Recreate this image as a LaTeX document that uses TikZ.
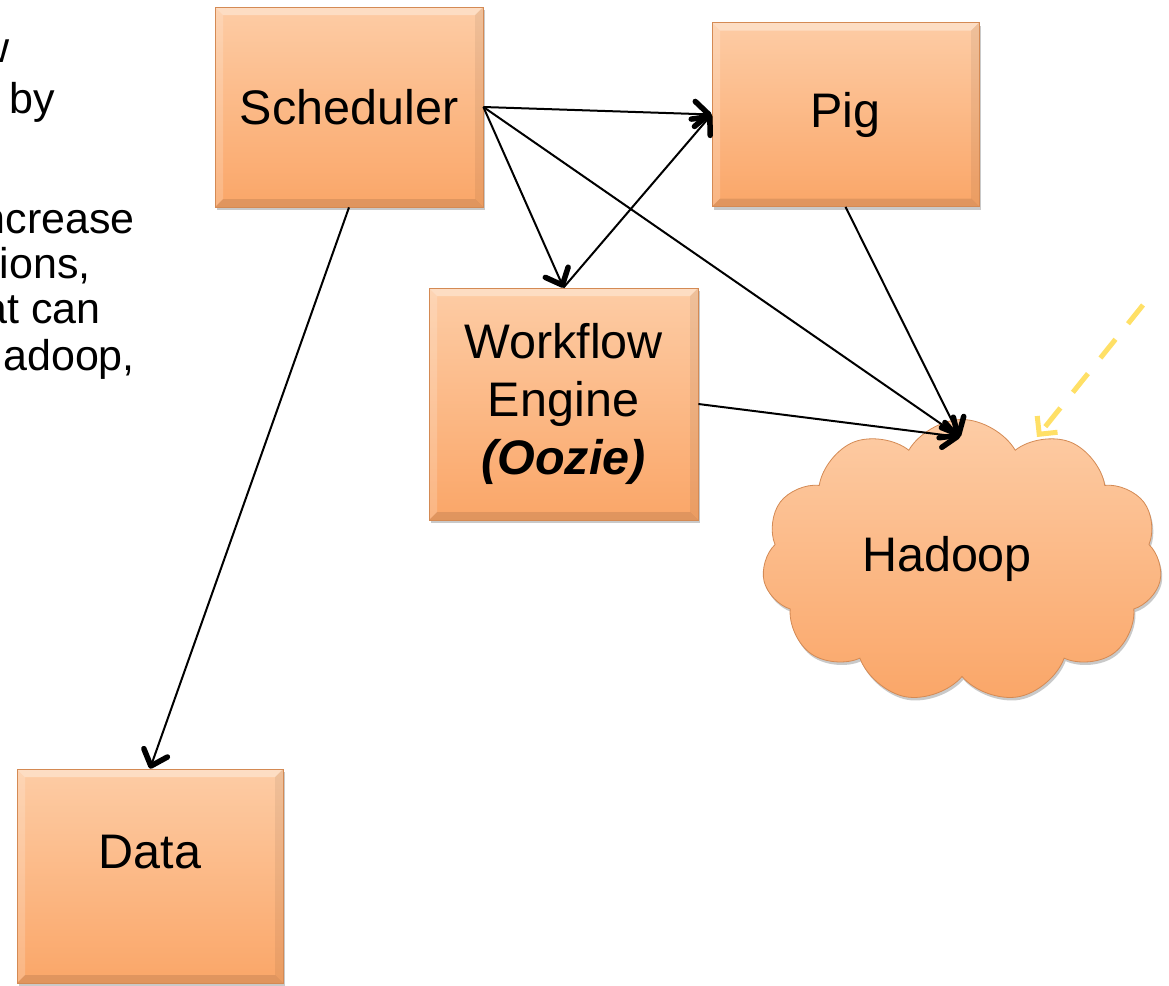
\documentclass[tikz,border=0pt]{standalone}
\usepackage{fontspec}
\setmainfont{Liberation Sans}
\usetikzlibrary{arrows.meta,shapes.symbols,shadows}
\definecolor{boxtop}{RGB}{253,204,165}
\definecolor{boxbot}{RGB}{250,166,104}
\definecolor{boxedge}{RGB}{212,138,84}
\definecolor{hlyellow}{RGB}{255,224,102}
\tikzset{
  bevel/.style={path picture={
    \fill[white,opacity=0.35] (path picture bounding box.north west) -- (path picture bounding box.north east)
      -- ([xshift=-8pt,yshift=-8pt]path picture bounding box.north east) -- ([xshift=8pt,yshift=-8pt]path picture bounding box.north west) -- cycle;
    \fill[white,opacity=0.18] (path picture bounding box.north west) -- ([xshift=8pt,yshift=-8pt]path picture bounding box.north west)
      -- ([xshift=8pt,yshift=8pt]path picture bounding box.south west) -- (path picture bounding box.south west) -- cycle;
    \fill[black,opacity=0.06] (path picture bounding box.north east) -- ([xshift=-8pt,yshift=-8pt]path picture bounding box.north east)
      -- ([xshift=-8pt,yshift=8pt]path picture bounding box.south east) -- (path picture bounding box.south east) -- cycle;
    \fill[black,opacity=0.10] (path picture bounding box.south west) -- ([xshift=8pt,yshift=8pt]path picture bounding box.south west)
      -- ([xshift=-8pt,yshift=8pt]path picture bounding box.south east) -- (path picture bounding box.south east) -- cycle;
  }},
  orangebox/.style={draw=boxedge, line width=0.8pt, top color=boxtop, bottom color=boxbot,
    inner sep=0pt, align=center, font=\fontsize{48.5pt}{58pt}\selectfont,
    drop shadow={shadow xshift=1.5pt, shadow yshift=-3pt, opacity=0.35, fill=black!60}, bevel},
  cloudbox/.style={cloud, cloud puffs=11, cloud puff arc=120, aspect=1.41,
    minimum width=400pt, minimum height=283pt, inner sep=0pt,
    draw=boxedge, line width=0.8pt, top color=boxtop, bottom color=boxbot,
    drop shadow={shadow xshift=1.5pt, shadow yshift=-3pt, opacity=0.35, fill=black!60}},
  boxlabel/.style={inner sep=0pt, font=\fontsize{48.5pt}{58pt}\selectfont},
  link/.style={line width=2pt, -{Straight Barb[length=14pt,width=25pt,line width=5.5pt,round]}},
  hint/.style={draw=hlyellow, line width=5pt, dash pattern=on 24pt off 20pt,
    -{Straight Barb[length=13pt,width=26pt,line width=5pt]}},
  sidetext/.style={anchor=base east, inner sep=0pt, font=\fontsize{43pt}{52pt}\selectfont}
}
\begin{document}
\begin{tikzpicture}[x=1pt,y=-1pt]
\useasboundingbox (0,0) rectangle (1169,985);
\fill[white] (0,0) rectangle (1169,985);

% cut-off side text
\node[sidetext] (t1) at (10,62) {w};
\node[sidetext] (t2) at (55,113) {by};
\node[sidetext] (t3) at (135,233) {ncrease};
\node[sidetext] (t4) at (91,278) {tions,};
\node[sidetext] (t5) at (101,323) {at can};
\node[sidetext] (t6) at (135,370) {adoop,};

% boxes
\node[orangebox, minimum width=268pt, minimum height=200pt] (sched) at (349,107) {Scheduler};
\node[orangebox, minimum width=267pt, minimum height=184pt] (pig) at (845.5,114.5) {Pig};
\node[orangebox, minimum width=269pt, minimum height=232pt] (wf) at (563.5,404)
  {Workflow\\Engine\\\textbf{\textit{(Oozie)}}};
\node[orangebox, minimum width=266pt, minimum height=214pt] (data) at (150,876) {};
\node[boxlabel] (datatxt) at (150,852) {Data};

% cloud
\node[cloudbox] (hadoop) at (962,561) {};
\node[boxlabel] (hadooptxt) at (947,559) {Hadoop};

\coordinate (hadooptip) at (960,437);
\coordinate (ystart) at (1143,305);
\coordinate (yend) at (1037,437);

% connectors
\draw[link] (sched.east) -- (pig.west);
\draw[link] (sched.east) -- (wf.north);
\draw[link] (sched.east) -- (hadooptip);
\draw[link] (wf.north) -- (pig.west);
\draw[link] (pig.south) -- (hadooptip);
\draw[link] (wf.east) -- (hadooptip);
\draw[link] (sched.south) -- (data.north);

% yellow dashed pointer
\draw[hint] (ystart) -- (yend);
\end{tikzpicture}
\end{document}
